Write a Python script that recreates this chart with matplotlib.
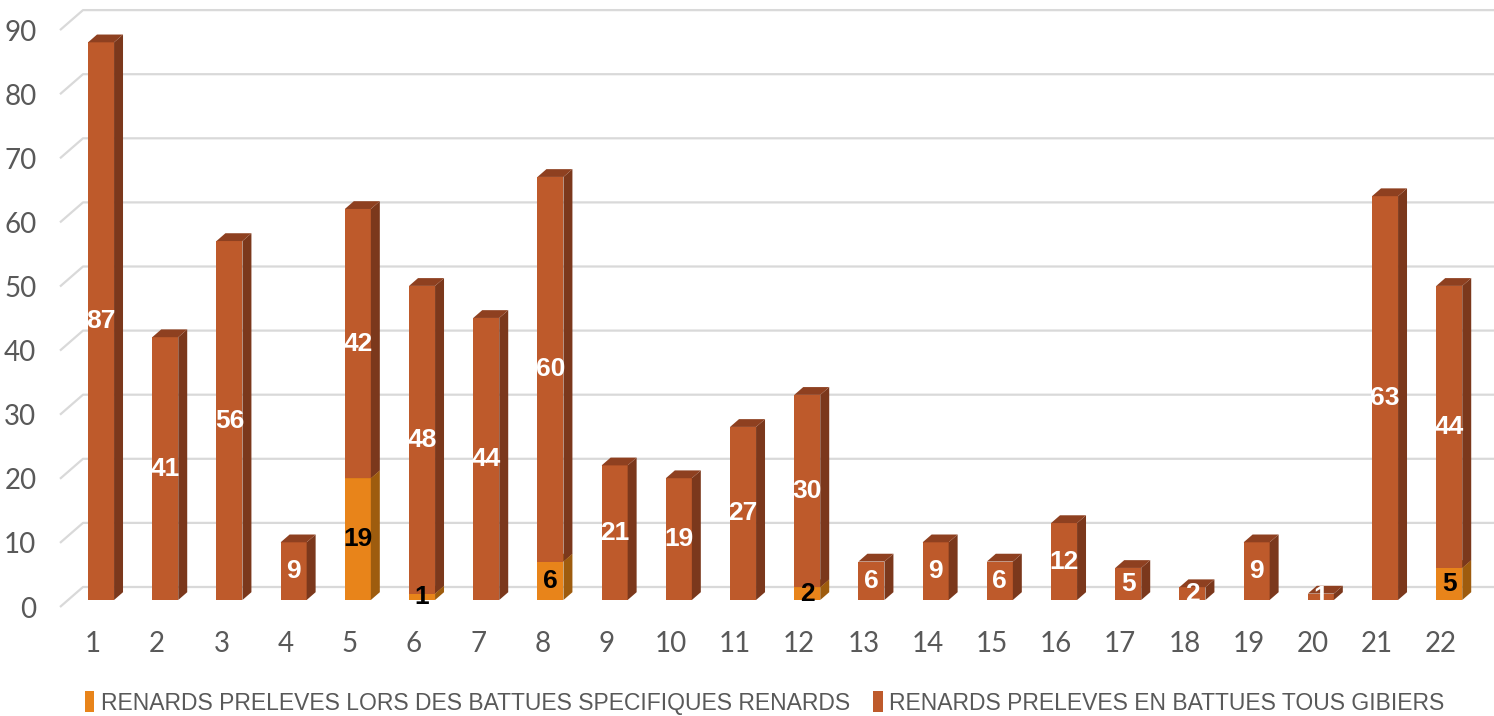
import matplotlib
matplotlib.use("Agg")
import matplotlib.pyplot as plt
from matplotlib.patches import Polygon, Patch

# data
categories = list(range(1, 23))
specifiques = [0, 0, 0, 0, 19, 1, 0, 6, 0, 0, 0, 2, 0, 0, 0, 0, 0, 0, 0, 0, 0, 5]
tous_gibiers = [87, 41, 56, 9, 42, 48, 44, 60, 21, 19, 27, 30, 6, 9, 6, 12, 5, 2, 9, 1, 63, 44]
yticks = list(range(0, 91, 10))
series_names = ["RENARDS PRELEVES LORS DES BATTUES SPECIFIQUES RENARDS",
                "RENARDS PRELEVES EN BATTUES TOUS GIBIERS"]

# colours: front, side, top
c_spec = ("#E8841A", "#9E5C0E", "#B86A12")
c_tous = ("#BE5A2B", "#7B381C", "#8E4020")
grid_c = "#D9D9D9"
txt_c = "#595959"

fig = plt.figure(figsize=(14.94, 7.16), dpi=100)
ax = fig.add_axes([60 / 1494, 109 / 716, 1434 / 1494, 607 / 716])
ax.set_xlim(1 + (60 - 93) / 64.2, 1 + (1494 - 93) / 64.2)
ax.set_ylim(0, 607 / 6.41)

# depth of the pseudo-3d box (data units)
DX, DY = 23 / 64.2, 20 / 6.41
d0, d1 = 0.35, 0.74
w = 0.405
x0, x1 = ax.get_xlim()

for v in yticks:
    ax.plot([x0, x0 + DX, x1], [v, v + DY, v + DY], color=grid_c, lw=1.6,
            solid_capstyle="butt", clip_on=False, zorder=1)


def box(x, y0, y1, cols):
    xl = x - w / 2 + d0 * DX
    xr = x + w / 2 + d0 * DX
    b0 = y0 + d0 * DY
    b1 = y1 + d0 * DY
    ddx = (d1 - d0) * DX
    ddy = (d1 - d0) * DY
    front = Polygon([(xl, b0), (xr, b0), (xr, b1), (xl, b1)], closed=True,
                    fc=cols[0], ec="none", zorder=3)
    side = Polygon([(xr, b0), (xr + ddx, b0 + ddy), (xr + ddx, b1 + ddy), (xr, b1)],
                   closed=True, fc=cols[1], ec="none", zorder=3)
    top = Polygon([(xl, b1), (xr, b1), (xr + ddx, b1 + ddy), (xl + ddx, b1 + ddy)],
                  closed=True, fc=cols[2], ec="none", zorder=3)
    for p in (front, side, top):
        ax.add_patch(p)
    return (xl + xr) / 2, (b0 + b1) / 2


for x, a, b in zip(categories, specifiques, tous_gibiers):
    if a > 0:
        cx, cy = box(x, 0, a, c_spec)
        ax.text(cx, cy, str(a), ha="center", va="center", color="black",
                fontsize=19, fontweight="bold", family="Liberation Sans", zorder=5)
    if b > 0:
        cx, cy = box(x, a, a + b, c_tous)
        ax.text(cx, cy, str(b), ha="center", va="center", color="white",
                fontsize=19, fontweight="bold", family="Liberation Sans", zorder=5)

for s in ax.spines.values():
    s.set_visible(False)
ax.set_xticks(categories)
ax.set_xticklabels([str(c) for c in categories])
ax.set_yticks(yticks)
ax.set_yticklabels([str(v) for v in yticks])
ax.tick_params(axis="both", length=0, labelsize=20, labelcolor=txt_c)
ax.tick_params(axis="y", pad=17)
ax.tick_params(axis="x", pad=17)
for lab in ax.get_xticklabels() + ax.get_yticklabels():
    lab.set_family("Lato")

handles = [Patch(fc=c_spec[0], ec="none"), Patch(fc=c_tous[0], ec="none")]
fig.legend(handles, series_names, loc="center", bbox_to_anchor=(765 / 1494, 1 - 703 / 716),
           ncol=2, frameon=False, handlelength=0.4, handleheight=1.0, handletextpad=0.3,
           columnspacing=1.0, prop={"family": "Liberation Sans", "size": 16.5},
           labelcolor=txt_c, borderaxespad=0)

fig.savefig("out.png", dpi=100)
